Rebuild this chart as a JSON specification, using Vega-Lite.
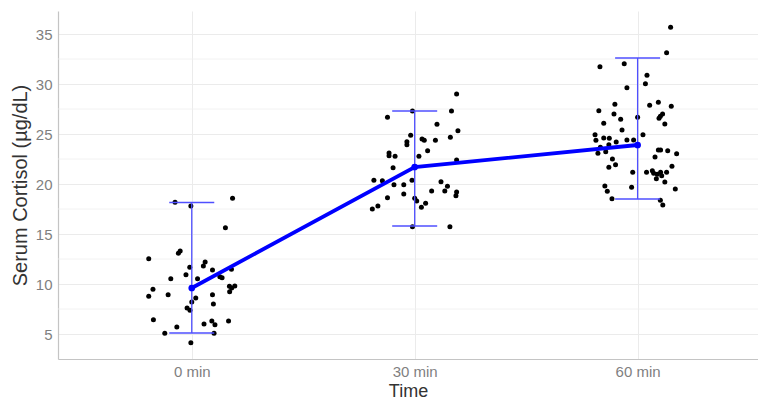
{
  "$schema": "https://vega.github.io/schema/vega-lite/v6.json",
  "width": 700,
  "height": 348,
  "autosize": {"type": "none"},
  "padding": {"left": 58, "top": 11, "right": 0, "bottom": 42},
  "background": "white",
  "config": {
    "view": {"stroke": null},
    "font": "Liberation Sans",
    "axis": {
      "labelFont": "Liberation Sans",
      "titleFont": "Liberation Sans",
      "labelColor": "#7F7F7F",
      "labelFontSize": 15,
      "titleColor": "#333333",
      "titleFontWeight": "normal",
      "gridColor": "#EBEBEB",
      "gridWidth": 1,
      "domainColor": "#C4C4C4",
      "domainWidth": 1.2,
      "ticks": false
    }
  },
  "datasets": {
    "pts": [
      {"x": 0.925, "y": 18.17}, {"x": 0.996, "y": 17.8}, {"x": 1.183, "y": 18.57}, {"x": 1.151, "y": 15.63},
      {"x": 0.94, "y": 13.07}, {"x": 0.948, "y": 13.3}, {"x": 0.807, "y": 12.53}, {"x": 0.991, "y": 11.67},
      {"x": 1.06, "y": 12.2}, {"x": 1.052, "y": 11.8}, {"x": 1.093, "y": 11.4}, {"x": 0.974, "y": 10.93},
      {"x": 0.906, "y": 10.53}, {"x": 1.026, "y": 10.53}, {"x": 1.126, "y": 10.73}, {"x": 1.136, "y": 10.63},
      {"x": 1.178, "y": 11.47}, {"x": 0.826, "y": 9.47}, {"x": 0.807, "y": 8.77}, {"x": 0.894, "y": 8.93},
      {"x": 1.169, "y": 9.77}, {"x": 1.193, "y": 9.8}, {"x": 1.17, "y": 9.23}, {"x": 1.179, "y": 9.6},
      {"x": 1.018, "y": 8.6}, {"x": 1.093, "y": 8.93}, {"x": 1.0, "y": 8.2}, {"x": 1.097, "y": 8.0},
      {"x": 0.979, "y": 7.6}, {"x": 0.992, "y": 7.37}, {"x": 0.828, "y": 6.43}, {"x": 1.09, "y": 6.3},
      {"x": 1.104, "y": 5.93}, {"x": 1.055, "y": 6.0}, {"x": 1.165, "y": 6.3}, {"x": 0.933, "y": 5.7},
      {"x": 0.879, "y": 5.07}, {"x": 1.1, "y": 5.07}, {"x": 0.996, "y": 4.13},
      {"x": 2.188, "y": 29.0}, {"x": 2.165, "y": 27.3}, {"x": 1.99, "y": 27.3}, {"x": 1.878, "y": 26.67},
      {"x": 2.1, "y": 25.97}, {"x": 2.194, "y": 25.33}, {"x": 1.982, "y": 24.87}, {"x": 1.965, "y": 24.23},
      {"x": 1.965, "y": 23.93}, {"x": 2.033, "y": 24.5}, {"x": 2.043, "y": 24.37}, {"x": 2.093, "y": 24.37},
      {"x": 2.16, "y": 24.67}, {"x": 1.885, "y": 23.1}, {"x": 1.885, "y": 22.83}, {"x": 1.912, "y": 22.77},
      {"x": 2.058, "y": 23.33}, {"x": 2.019, "y": 22.77}, {"x": 2.188, "y": 22.4}, {"x": 1.903, "y": 21.63},
      {"x": 1.817, "y": 20.37}, {"x": 1.855, "y": 20.33}, {"x": 1.988, "y": 20.37}, {"x": 1.907, "y": 19.93},
      {"x": 1.951, "y": 19.93}, {"x": 2.118, "y": 20.23}, {"x": 2.147, "y": 19.77}, {"x": 2.076, "y": 19.3},
      {"x": 2.135, "y": 19.3}, {"x": 2.188, "y": 19.2}, {"x": 2.185, "y": 18.83}, {"x": 1.951, "y": 19.0},
      {"x": 1.878, "y": 18.63}, {"x": 2.0, "y": 18.57}, {"x": 2.009, "y": 18.3}, {"x": 2.049, "y": 18.07},
      {"x": 2.03, "y": 17.67}, {"x": 1.835, "y": 17.8}, {"x": 1.81, "y": 17.5}, {"x": 2.158, "y": 15.73},
      {"x": 1.99, "y": 15.73},
      {"x": 3.148, "y": 35.67}, {"x": 3.13, "y": 33.13}, {"x": 2.831, "y": 31.73}, {"x": 2.94, "y": 32.03},
      {"x": 3.042, "y": 30.87}, {"x": 3.035, "y": 30.03}, {"x": 2.952, "y": 29.63}, {"x": 2.898, "y": 27.97},
      {"x": 2.826, "y": 27.33}, {"x": 2.894, "y": 27.0}, {"x": 2.924, "y": 26.47}, {"x": 2.848, "y": 26.07},
      {"x": 3.093, "y": 28.17}, {"x": 3.054, "y": 27.87}, {"x": 3.151, "y": 27.77}, {"x": 3.112, "y": 27.0},
      {"x": 3.102, "y": 26.77}, {"x": 3.096, "y": 26.57}, {"x": 3.122, "y": 26.0}, {"x": 3.0, "y": 26.67},
      {"x": 2.93, "y": 25.4}, {"x": 2.809, "y": 24.93}, {"x": 3.024, "y": 24.93}, {"x": 2.813, "y": 24.37},
      {"x": 2.848, "y": 24.6}, {"x": 2.873, "y": 24.57}, {"x": 2.904, "y": 24.2}, {"x": 2.952, "y": 24.4},
      {"x": 2.982, "y": 24.4}, {"x": 2.871, "y": 23.93}, {"x": 2.833, "y": 23.67}, {"x": 2.822, "y": 23.07},
      {"x": 2.857, "y": 23.23}, {"x": 3.093, "y": 23.4}, {"x": 3.103, "y": 23.4}, {"x": 3.135, "y": 23.33},
      {"x": 3.175, "y": 23.03}, {"x": 3.078, "y": 22.7}, {"x": 2.887, "y": 22.5}, {"x": 2.901, "y": 21.93},
      {"x": 2.871, "y": 21.67}, {"x": 3.154, "y": 21.77}, {"x": 2.978, "y": 21.17}, {"x": 3.04, "y": 21.17},
      {"x": 3.066, "y": 21.33}, {"x": 3.072, "y": 21.07}, {"x": 3.088, "y": 20.97}, {"x": 3.103, "y": 21.17},
      {"x": 3.108, "y": 20.83}, {"x": 3.13, "y": 21.17}, {"x": 3.084, "y": 20.53}, {"x": 3.122, "y": 20.2},
      {"x": 3.169, "y": 19.5}, {"x": 2.853, "y": 19.8}, {"x": 2.864, "y": 19.27}, {"x": 2.973, "y": 19.67},
      {"x": 2.885, "y": 18.53}, {"x": 3.102, "y": 18.37}, {"x": 3.113, "y": 17.9}
    ],
    "summary": [
      {"x": 1, "mean": 9.6, "lo": 5.1, "hi": 18.15},
      {"x": 2, "mean": 21.7, "lo": 15.8, "hi": 27.3},
      {"x": 3, "mean": 23.9, "lo": 18.5, "hi": 32.6}
    ],
    "minor": [
      {"y": 7.5}, {"y": 12.5}, {"y": 17.5}, {"y": 22.5}, {"y": 27.5}, {"y": 32.5}
    ]
  },
  "layer": [
    {
      "data": {"name": "minor"},
      "mark": {"type": "rule", "color": "#EFEFEF", "strokeWidth": 0.8},
      "encoding": {
        "y": {"field": "y", "type": "quantitative", "scale": {"domain": [2.5, 37.3], "nice": false, "zero": false}}
      }
    },
    {
      "data": {"name": "pts"},
      "mark": {"type": "point", "filled": true, "color": "#000000", "opacity": 1, "size": 25},
      "encoding": {
        "x": {
          "field": "x", "type": "quantitative",
          "scale": {"domain": [0.4, 3.54], "nice": false, "zero": false},
          "axis": {
            "values": [1, 2, 3],
            "labelExpr": "datum.value == 1 ? '0 min' : datum.value == 2 ? '30 min' : '60 min'",
            "title": "Time",
            "titleFontSize": 18,
            "labelPadding": 5,
            "titlePadding": 3,
            "grid": true
          }
        },
        "y": {
          "field": "y", "type": "quantitative",
          "scale": {"domain": [2.5, 37.3], "nice": false, "zero": false},
          "axis": {
            "values": [5, 10, 15, 20, 25, 30, 35],
            "title": "Serum Cortisol (µg/dL)",
            "titleFontSize": 20,
            "labelPadding": 6,
            "titlePadding": 5,
            "grid": true
          }
        }
      }
    },
    {
      "data": {"name": "summary"},
      "mark": {"type": "rule", "color": "#4F4FFF", "strokeWidth": 1.3},
      "encoding": {
        "x": {"field": "x", "type": "quantitative"},
        "y": {"field": "lo", "type": "quantitative"},
        "y2": {"field": "hi"}
      }
    },
    {
      "data": {"name": "summary"},
      "mark": {"type": "tick", "orient": "horizontal", "color": "#4F4FFF", "size": 45, "thickness": 1.3, "opacity": 1},
      "encoding": {
        "x": {"field": "x", "type": "quantitative"},
        "y": {"field": "hi", "type": "quantitative"}
      }
    },
    {
      "data": {"name": "summary"},
      "mark": {"type": "tick", "orient": "horizontal", "color": "#4F4FFF", "size": 45, "thickness": 1.3, "opacity": 1},
      "encoding": {
        "x": {"field": "x", "type": "quantitative"},
        "y": {"field": "lo", "type": "quantitative"}
      }
    },
    {
      "data": {"name": "summary"},
      "mark": {"type": "line", "color": "#0000FF", "strokeWidth": 3.8},
      "encoding": {
        "x": {"field": "x", "type": "quantitative"},
        "y": {"field": "mean", "type": "quantitative"}
      }
    },
    {
      "data": {"name": "summary"},
      "mark": {"type": "point", "filled": true, "color": "#0000FF", "opacity": 1, "size": 45},
      "encoding": {
        "x": {"field": "x", "type": "quantitative"},
        "y": {"field": "mean", "type": "quantitative"}
      }
    }
  ]
}
